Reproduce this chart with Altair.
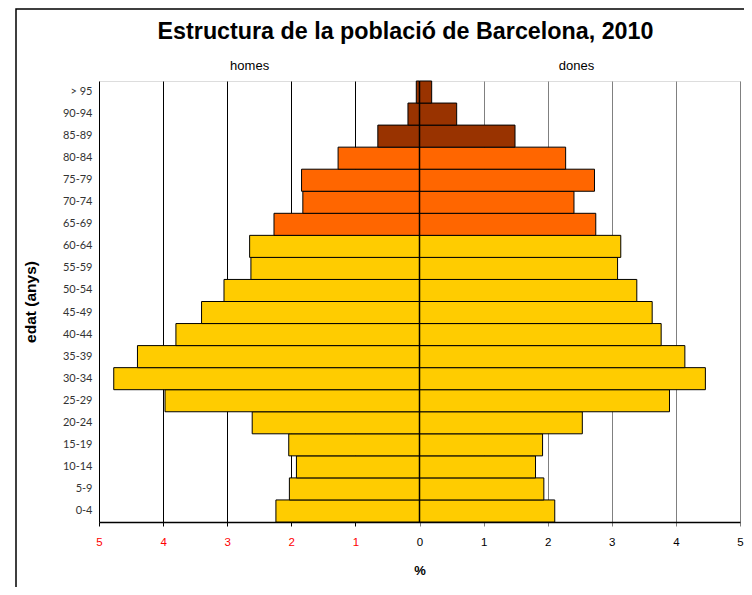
import altair as alt
import pandas as pd

ages = ["0-4", "5-9", "10-14", "15-19", "20-24", "25-29", "30-34", "35-39", "40-44",
        "45-49", "50-54", "55-59", "60-64", "65-69", "70-74", "75-79", "80-84",
        "85-89", "90-94", "> 95"]
homes = [2.24, 2.03, 1.92, 2.04, 2.61, 3.97, 4.77, 4.40, 3.80, 3.40, 3.05, 2.63, 2.65,
         2.27, 1.82, 1.84, 1.27, 0.65, 0.18, 0.05]
dones = [2.11, 1.94, 1.81, 1.92, 2.54, 3.90, 4.46, 4.14, 3.77, 3.63, 3.39, 3.09, 3.14,
         2.75, 2.41, 2.73, 2.28, 1.49, 0.58, 0.19]
groups = ["jove"] * 13 + ["gran"] * 4 + ["molt gran"] * 3
x_ticks = [-5, -4, -3, -2, -1, 0, 1, 2, 3, 4, 5]
side_labels = ["homes", "dones"]
side_pos = [-2.65, 2.45]
title_text = "Estructura de la població de Barcelona, 2010"

rows = []
for a, h, d, g in zip(ages, homes, dones, groups):
    rows.append({"edat": a, "x": -h, "x2": 0, "grup": g})
    rows.append({"edat": a, "x": 0, "x2": d, "grup": g})
df = pd.DataFrame(rows)

W, H = 641, 441
FONT = "Liberation Sans"

xscale = alt.Scale(domain=[-5, 5], nice=False, zero=False)
yscale = alt.Scale(paddingInner=0, paddingOuter=0)
order = ages[::-1]

bars = alt.Chart(df).mark_bar(stroke="black", strokeWidth=1).encode(
    x=alt.X("x:Q", scale=xscale,
            axis=alt.Axis(values=x_ticks, labelExpr="abs(datum.value)", title="%",
                          grid=True,
                          gridColor={"condition": {"test": "datum.value < 0", "value": "#000000"}, "value": "#808080"},
                          gridWidth=1,
                          labelColor={"condition": {"test": "datum.value < 0", "value": "#ff0000"}, "value": "#000000"},
                          tickColor={"condition": {"test": "datum.value < 0", "value": "#000000"}, "value": "#808080"},
                          tickSize=4, labelPadding=10, labelFont=FONT, labelFontSize=11.5,
                          titleFont=FONT, titleFontSize=13, titleFontWeight="bold",
                          titlePadding=17, domainColor="black", domainWidth=1.5, labelFlush=False)),
    x2="x2:Q",
    y=alt.Y("edat:N", sort=order, scale=yscale,
            axis=alt.Axis(title="edat (anys)", ticks=False, domain=False, labelPadding=7,
                          labelFont="Lato", labelFontSize=11, labelColor="#333333",
                          titleFont=FONT, titleFontSize=15.5, titleFontWeight="bold",
                          titlePadding=24, titleColor="black")),
    color=alt.Color("grup:N", legend=None,
                    scale=alt.Scale(domain=["jove", "gran", "molt gran"],
                                    range=["#FFCC00", "#FF6600", "#993300"])),
)

zero = alt.Chart(pd.DataFrame({"x": [0]})).mark_rule(color="black", strokeWidth=1.5).encode(
    x=alt.X("x:Q", scale=xscale))

sides = alt.Chart(pd.DataFrame({"t": side_labels, "x": side_pos})).mark_text(
    font=FONT, fontSize=13, color="black").encode(
    x=alt.X("x:Q", scale=xscale), y=alt.value(-15), text="t:N")

title = alt.Chart(pd.DataFrame({"t": [title_text]})).mark_text(
    font=FONT, fontSize=23.3, fontWeight="bold", color="black", baseline="middle",
    align="center").encode(x=alt.value(W / 2 - 14), y=alt.value(-49), text="t:N")

frame = alt.Chart(pd.DataFrame({"a": [0]})).mark_rect(
    fill=None, fillOpacity=0, stroke="black", strokeWidth=1.5, clip=False).encode(
    x=alt.value(-83), x2=alt.value(700), y=alt.value(-72), y2=alt.value(560))

chart = alt.layer(frame, bars, zero, sides, title).properties(
    width=W, height=H,
    autosize=alt.AutoSizeParams(type="none"),
    padding={"left": 91, "top": 73, "right": 4, "bottom": 65},
).configure_view(fill="#FFFFCC", stroke="#808080", strokeWidth=1.5
).configure(background="white")

chart.save("out.html", embed_options={"renderer": "svg", "actions": False})
